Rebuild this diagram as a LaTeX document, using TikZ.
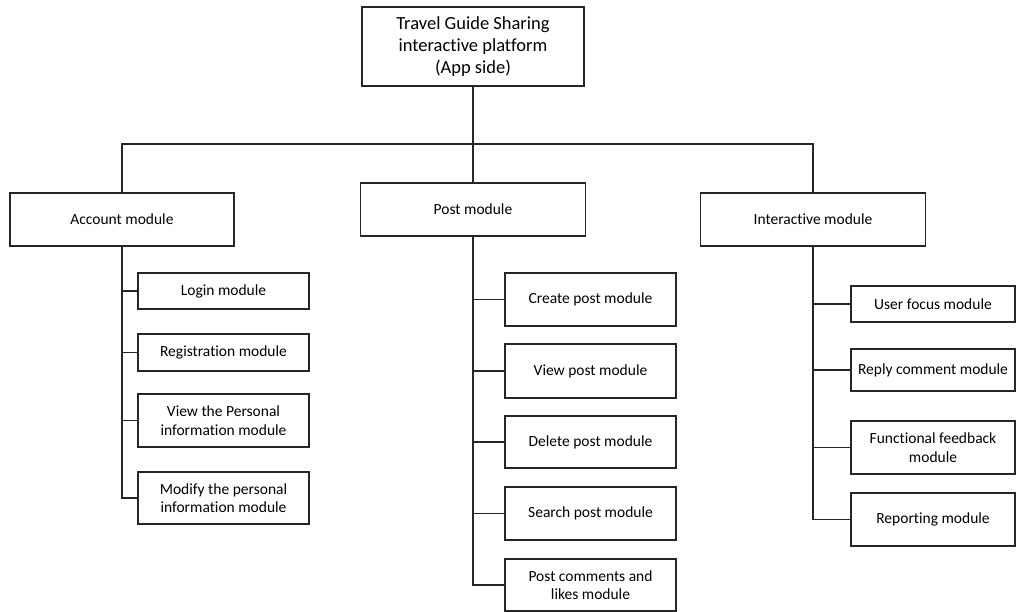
\documentclass[tikz,border=0pt]{standalone}
\usepackage{fontspec}
\setmainfont{Carlito}[Ligatures=NoCommon]
\begin{document}
\begin{tikzpicture}[x=1pt,y=-1pt,
  box/.style={draw=black!85,line width=1.1pt,fill=white,align=center,inner sep=2pt,
    font=\fontsize{15.5}{18.5}\selectfont},
  conn/.style={line width=1.1pt,draw=black!85}]
\useasboundingbox (0,0) rectangle (1016,612);
\node[box,minimum width=222,minimum height=79,font=\fontsize{18.5}{22}\selectfont] (top) at (473,46.5) {Travel Guide Sharing\\interactive platform\\(App side)};
\node[box,minimum width=224,minimum height=53] (acc) at (122,219.5) {Account module};
\node[box,minimum width=225,minimum height=53] (post) at (473,209.5) {Post module};
\node[box,minimum width=225,minimum height=53] (int) at (813,219.5) {Interactive module};
% account children
\node[box,minimum width=171,minimum height=36] (login) at (223.5,291) {Login module};
\node[box,minimum width=171,minimum height=37] (reg) at (223.5,352.5) {Registration module};
\node[box,minimum width=171,minimum height=53] (viewp) at (223.5,420.5) {View the Personal\\information module};
\node[box,minimum width=171,minimum height=52] (modp) at (223.5,498) {Modify the personal\\information module};
% post children
\node[box,minimum width=171,minimum height=53] (create) at (590.5,299.5) {Create post module};
\node[box,minimum width=171,minimum height=54] (view) at (590.5,371) {View post module};
\node[box,minimum width=171,minimum height=52] (del) at (590.5,442) {Delete post module};
\node[box,minimum width=171,minimum height=53] (search) at (590.5,513.5) {Search post module};
\node[box,minimum width=171,minimum height=52] (comm) at (590.5,585) {Post comments and\\likes module};
% interactive children
\node[box,minimum width=164,minimum height=36] (focus) at (933,304) {User focus module};
\node[box,minimum width=164,minimum height=42] (reply) at (933,370) {Reply comment module};
\node[box,minimum width=164,minimum height=53] (feed) at (933,447.5) {Functional feedback\\module};
\node[box,minimum width=164,minimum height=53] (report) at (933,519.5) {Reporting module};
% connectors
\coordinate (bus) at (473,144);
\draw[conn] (top.south) -- (post.north);
\draw[conn] (acc.north) -- (acc.north |- bus) -- (int.north |- bus) -- (int.north);
\draw[conn] (acc.south) |- (modp.west);
\draw[conn] (acc.south |- login.west) -- (login.west);
\draw[conn] (acc.south |- reg.west) -- (reg.west);
\draw[conn] (acc.south |- viewp.west) -- (viewp.west);
\draw[conn] (post.south) |- (comm.west);
\draw[conn] (post.south |- create.west) -- (create.west);
\draw[conn] (post.south |- view.west) -- (view.west);
\draw[conn] (post.south |- del.west) -- (del.west);
\draw[conn] (post.south |- search.west) -- (search.west);
\draw[conn] (int.south) |- (report.west);
\draw[conn] (int.south |- focus.west) -- (focus.west);
\draw[conn] (int.south |- reply.west) -- (reply.west);
\draw[conn] (int.south |- feed.west) -- (feed.west);
\end{tikzpicture}
\end{document}
